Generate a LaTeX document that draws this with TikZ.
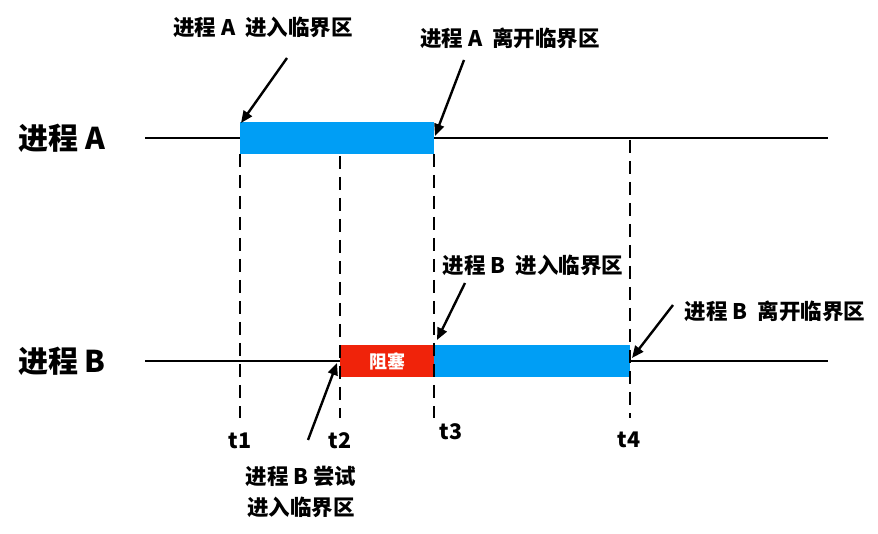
\documentclass[tikz,border=0pt]{standalone}
\usepackage{fontspec}
\setmainfont{Noto Sans CJK SC}
\usetikzlibrary{arrows.meta}
\begin{document}
\begin{tikzpicture}[x=1pt,y=-1pt,
  tl/.style={line width=2.4pt,black},
  dl/.style={line width=2.4pt,black,dash pattern=on 13pt off 8pt},
  blk/.style={fill={rgb,255:red,0;green,158;blue,245},draw=none},
  redblk/.style={fill={rgb,255:red,240;green,35;blue,10},draw=none},
  ar/.style={line width=2.4pt,-{Triangle[length=12pt,width=10pt]}},
  lab/.style={font=\fontsize{21.5}{25}\selectfont\bfseries,inner sep=0pt},
  big/.style={font=\fontsize{30}{34}\selectfont\bfseries,inner sep=0pt}]
\useasboundingbox (0,0) rectangle (878,534);
% process lines
\node[big] (pa) at (62,138) {进程 A};
\node[big] (pb) at (62,361) {进程 B};
\coordinate (a0) at (145,138); \coordinate (a1) at (828,138);
\coordinate (b0) at (145,361); \coordinate (b1) at (828,361);
\draw[tl] (a0) -- (a1);
\draw[tl] (b0) -- (b1);
% blocks
\node[blk,minimum width=194pt,minimum height=32pt,inner sep=0pt] (ca) at (337,138) {};
\node[redblk,minimum width=94pt,minimum height=32pt,inner sep=0pt,text=white,font=\fontsize{18}{20}\selectfont\bfseries] (rb) at (387,361) {阻塞};
\node[blk,minimum width=196pt,minimum height=32pt,inner sep=0pt] (cb) at (532,361) {};
% dashed verticals
\coordinate (d1t) at (240,154); \coordinate (d1b) at (240,418);
\coordinate (d2t) at (340,156); \coordinate (d2b) at (340,418);
\coordinate (d3t) at (434,154); \coordinate (d3b) at (434,418);
\coordinate (d4t) at (630,140); \coordinate (d4b) at (630,418);
\draw[dl] (d1t) -- (d1b);
\draw[dl] (d2t) -- (d2b);
\draw[dl] (d3t) -- (d3b);
\draw[dl] (d4t) -- (d4b);
% time labels
\node[lab] (t1) at (240,441) {t1};
\node[lab] (t2) at (340,441) {t2};
\node[lab] (t3) at (451,432) {t3};
\node[lab] (t4) at (629,440) {t4};
% annotations
\node[lab] (la) at (263,27) {进程 A\ \ 进入临界区};
\coordinate (la0) at (287,58); \coordinate (la1) at (241,123);
\draw[ar] (la0) -- (la1);
\node[lab] (lb) at (510,38) {进程 A\ \ 离开临界区};
\coordinate (lb0) at (464,60); \coordinate (lb1) at (435,136);
\draw[ar] (lb0) -- (lb1);
\node[lab] (lc) at (533,265) {进程 B\ \ 进入临界区};
\coordinate (lc0) at (465,283); \coordinate (lc1) at (437,340);
\draw[ar] (lc0) -- (lc1);
\node[lab] (ld) at (775,311) {进程 B\ \ 离开临界区};
\coordinate (ld0) at (673,305); \coordinate (ld1) at (632,358);
\draw[ar] (ld0) -- (ld1);
\node[lab,align=center] (le) at (301,492) {进程 B 尝试\\[6pt]进入临界区};
\coordinate (le0) at (308,440); \coordinate (le1) at (337,363);
\draw[ar] (le0) -- (le1);
\end{tikzpicture}
\end{document}
